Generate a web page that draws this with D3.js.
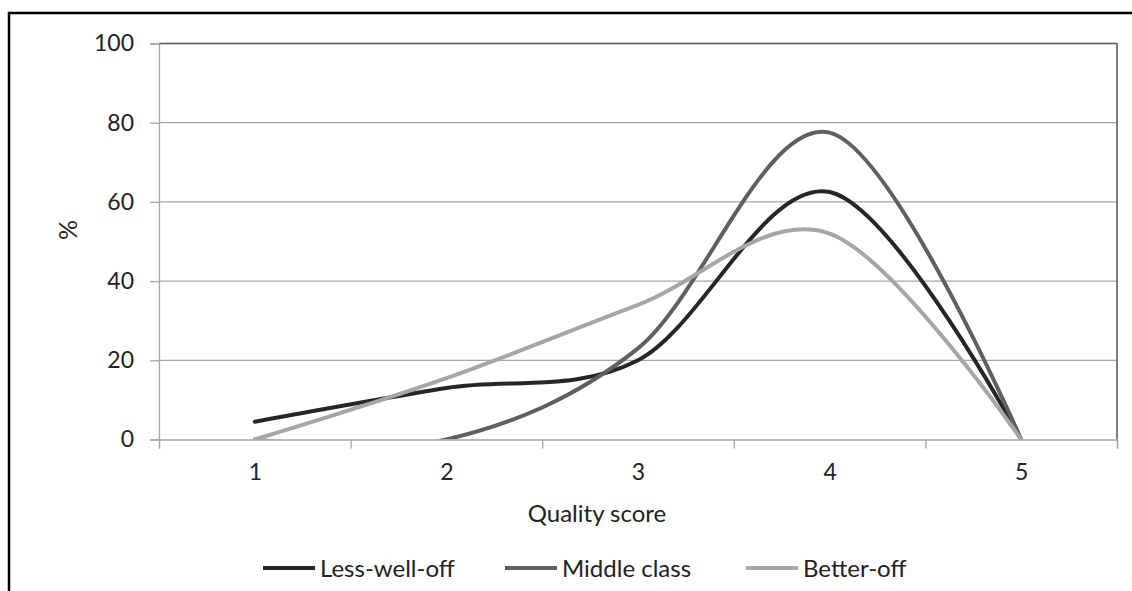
<!DOCTYPE html>
<html>
<head>
<meta charset="utf-8">
<script src="https://cdn.jsdelivr.net/npm/d3@7"></script>
<style>
  html, body { margin: 0; padding: 0; background: #fff; }
  svg { display: block; }
  text { font-family: Lato, "Open Sans", sans-serif; fill: #222; }
</style>
</head>
<body>
<svg id="chart" width="1132" height="591"></svg>
<script>
const categories = [1, 2, 3, 4, 5];
const seriesNames = ["Less-well-off", "Middle class", "Better-off"];
const lessWellOff = [4.5, 13, 20, 62.5, 0];
const middleClass = [0, 0, 23, 77.5, 0];
const betterOff = [0, 15.5, 34, 52, 0];
const yTicks = [0, 20, 40, 60, 80, 100];
const colors = ["#262626", "#5f5f5f", "#a6a6a6"];
const xTitle = "Quality score";
const yTitle = "%";

const series = [lessWellOff, middleClass, betterOff];

const svg = d3.select("#chart");

// outer frame
svg.append("rect").attr("x", 9).attr("y", 13).attr("width", 1200).attr("height", 700)
  .attr("fill", "none").attr("stroke", "#000").attr("stroke-width", 2.5);

const pLeft = 159, pRight = 1117, pTop = 43.5, pBottom = 439.5;

const x = d3.scaleLinear().domain([0.5, categories.length + 0.5]).range([pLeft, pRight]);
const y = d3.scaleLinear().domain([0, 100]).range([pBottom, pTop]);

svg.append("defs").append("clipPath").attr("id", "plotClip")
  .append("rect").attr("x", pLeft).attr("y", pTop)
  .attr("width", pRight - pLeft).attr("height", pBottom - pTop);

// gridlines
svg.append("g").selectAll("line").data(yTicks.filter(d => d > 0)).join("line")
  .attr("x1", pLeft).attr("x2", pRight)
  .attr("y1", d => y(d)).attr("y2", d => y(d))
  .attr("stroke", "#a6a6a6").attr("stroke-width", 1.3);

// plot border top & right
svg.append("path")
  .attr("d", `M${pLeft},${pTop}H${pRight}V${pBottom}`)
  .attr("fill", "none").attr("stroke", "#606060").attr("stroke-width", 1.6);

// lines (clipped to plot area)
const line = d3.line()
  .x((d, i) => x(categories[i]))
  .y(d => y(d))
  .curve(d3.curveCatmullRom.alpha(0));

svg.append("g").attr("clip-path", "url(#plotClip)")
  .selectAll("path").data(series).join("path")
  .attr("d", d => line(d))
  .attr("fill", "none")
  .attr("stroke", (d, i) => colors[i])
  .attr("stroke-width", 4)
  .attr("stroke-linecap", "round")
  .attr("stroke-linejoin", "round");

// y axis
const yAxis = svg.append("g").attr("transform", `translate(${pLeft},0)`)
  .call(d3.axisLeft(y).tickValues(yTicks).tickSize(9).tickPadding(16));
yAxis.select(".domain").attr("stroke", "#a6a6a6").attr("stroke-width", 1.3);
yAxis.selectAll(".tick line").attr("stroke", "#a6a6a6").attr("stroke-width", 1.3);
yAxis.selectAll(".tick text").style("font-size", "23px").attr("fill", "#222")
  .style("font-family", "Lato, 'Open Sans', sans-serif");

// x axis: ticks at category boundaries
const boundaries = d3.range(0, categories.length + 1).map(i => i + 0.5);
const xAxisTicks = svg.append("g").attr("transform", `translate(0,${pBottom})`)
  .call(d3.axisBottom(x).tickValues(boundaries).tickSize(9).tickFormat(""));
xAxisTicks.select(".domain").attr("stroke", "#a6a6a6").attr("stroke-width", 1.3);
xAxisTicks.selectAll(".tick line").attr("stroke", "#a6a6a6").attr("stroke-width", 1.3);

const xAxisLabels = svg.append("g").attr("transform", `translate(0,${pBottom})`)
  .call(d3.axisBottom(x).tickValues(categories).tickSize(0).tickPadding(24).tickFormat(d3.format("d")));
xAxisLabels.select(".domain").remove();
xAxisLabels.selectAll(".tick text").style("font-size", "23px").attr("fill", "#222")
  .style("font-family", "Lato, 'Open Sans', sans-serif");

// axis titles
svg.append("text").attr("x", 597).attr("y", 522)
  .attr("text-anchor", "middle").style("font-size", "24px").text(xTitle);
svg.append("text").attr("transform", "translate(77,230) rotate(-90)")
  .attr("text-anchor", "middle").style("font-size", "25px").text(yTitle);

// legend
const legendX = [263, 505, 746];
const lg = svg.append("g").selectAll("g").data(seriesNames).join("g")
  .attr("transform", (d, i) => `translate(${legendX[i]},568)`);
lg.append("line").attr("x1", 0).attr("x2", 52).attr("y1", 0).attr("y2", 0)
  .attr("stroke", (d, i) => colors[i]).attr("stroke-width", 4);
lg.append("text").attr("x", 57).attr("y", 0).attr("dy", "0.36em")
  .style("font-size", "24px").text(d => d);
</script>
</body>
</html>
